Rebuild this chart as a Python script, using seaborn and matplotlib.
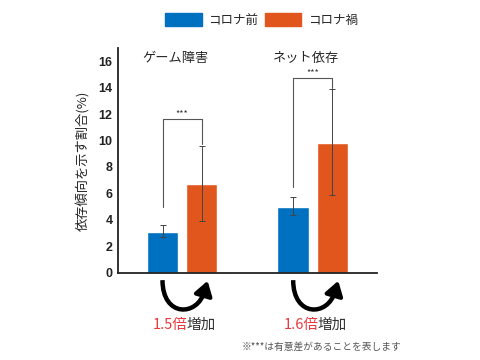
import pandas as pd
import matplotlib.pyplot as plt
import seaborn as sns
from matplotlib.patches import Patch, FancyArrowPatch, PathPatch
from matplotlib.path import Path

# データ
groups = ['ゲーム障害', 'ネット依存']
periods = ['コロナ前', 'コロナ禍']
pre_values = [3.1, 5.0]
during_values = [6.7, 9.8]
pre_err_low = [2.7, 4.4]
pre_err_high = [3.6, 5.7]
during_err_low = [3.9, 5.9]
during_err_high = [9.6, 13.9]
ratio_labels = ['1.5倍', '1.6倍']
ytick_values = [0, 2, 4, 6, 8, 10, 12, 14, 16]

colors = ['#0070C0', '#E0561C']

df = pd.DataFrame({
    'group': groups * 2,
    'period': [periods[0]] * 2 + [periods[1]] * 2,
    'value': pre_values + during_values,
})

sns.set_style('white')
plt.rcParams['font.family'] = ['Noto Sans CJK JP', 'DejaVu Sans']

fig = plt.figure(figsize=(4.8, 3.6), dpi=100)
ax = fig.add_axes([0.246, 0.242, 0.539, 0.625])

sns.barplot(data=df, x='group', y='value', hue='period', palette=colors,
            width=0.6, gap=0.2, legend=False, ax=ax, saturation=1)

# 棒の位置 (x順に並べる: 前0, 禍0, 前1, 禍1)
bars = sorted(ax.patches, key=lambda p: p.get_x())
centers = [b.get_x() + b.get_width() / 2 for b in bars]
pre_x = [centers[0], centers[2]]
dur_x = [centers[1], centers[3]]

# エラーバー
for xs, vals, lo, hi in [(pre_x, pre_values, pre_err_low, pre_err_high),
                         (dur_x, during_values, during_err_low, during_err_high)]:
    yerr = [[v - l for v, l in zip(vals, lo)], [h - v for v, h in zip(vals, hi)]]
    ax.errorbar(xs, vals, yerr=yerr, fmt='none', ecolor='#444444',
                elinewidth=0.7, capsize=2, capthick=0.7)

# 有意差ブラケット
bracket_low = [5.0, 6.5]
bracket_top = [11.6, 14.7]
for i in range(2):
    ax.plot([pre_x[i], pre_x[i], dur_x[i], dur_x[i]],
            [bracket_low[i], bracket_top[i], bracket_top[i], during_err_high[i] + 0.1],
            color='#555555', lw=0.8)
    ax.text((pre_x[i] + dur_x[i]) / 2, bracket_top[i] + 0.45, '***',
            ha='center', va='center', fontsize=6.5, color='#333333')
    ax.text(i - 0.05, 16.2, groups[i], ha='center', va='center', fontsize=9.5)

    # U字の矢印 (曲線 + 先端)
    x1, x2 = pre_x[i], dur_x[i] + 0.04
    u_path = Path([(x1, -0.55), (x1, -3.4), (x2 - 0.07, -3.3), (x2 - 0.02, -1.4)],
                  [Path.MOVETO, Path.CURVE4, Path.CURVE4, Path.CURVE4])
    ax.add_patch(PathPatch(u_path, fill=False, lw=3.2, color='black',
                           clip_on=False, capstyle='butt'))
    head = FancyArrowPatch((x2 - 0.025, -1.6), (x2 + 0.005, -0.6),
                           arrowstyle='-|>,head_length=0.7,head_width=0.45',
                           mutation_scale=12, lw=3, color='black',
                           clip_on=False, shrinkA=0, shrinkB=0)
    ax.add_patch(head)

    # 倍率テキスト
    ax.text(i + 0.045, -3.95, ratio_labels[i], ha='right', va='center',
            fontsize=10.5, color='#E8383D', clip_on=False)
    ax.text(i + 0.035, -3.95, '増加', ha='left', va='center',
            fontsize=10.5, color='#333333', clip_on=False)

ax.text(1.07, -5.6, '※***は有意差があることを表します', ha='center', va='center',
        fontsize=7, color='#555555', clip_on=False)

ax.set_xlim(-0.49, 1.49)
ax.set_ylim(0, 17)
ax.set_yticks(ytick_values)
ax.set_yticklabels([str(v) for v in ytick_values], fontsize=9, fontweight='bold',
                   family=['Liberation Sans'], color='#222222')
ax.set_xticks([])
ax.set_xlabel('')
ax.set_ylabel('依存傾向を示す割合(%)', fontsize=9.5, labelpad=6)
ax.tick_params(axis='y', length=0, pad=4)
sns.despine(ax=ax)
for s in ['left', 'bottom']:
    ax.spines[s].set_color('#222222')
    ax.spines[s].set_linewidth(1.3)

handles = [Patch(color=c) for c in colors]
fig.legend(handles, periods, loc='center', bbox_to_anchor=(0.545, 0.945), ncol=2,
           frameon=False, fontsize=9, handlelength=2.9, handleheight=1.2,
           handletextpad=0.55, columnspacing=0.5)

fig.savefig('out.png', dpi=100)
